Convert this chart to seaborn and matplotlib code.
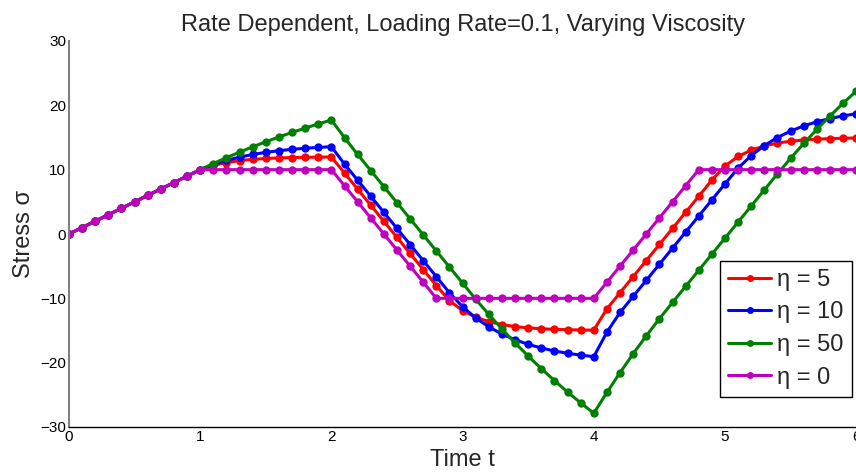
import numpy as np
import pandas as pd
import matplotlib
matplotlib.use("Agg")
import matplotlib.pyplot as plt
import seaborn as sns
from matplotlib.lines import Line2D

# Time samples (step 0.1 from 0 to 6)
time = np.round(np.linspace(0.0, 6.0, 61), 1)

# Stress response for each viscosity
stress_eta5 = [
    0, 1, 2, 3, 4, 5, 6, 7, 8, 9, 10,
    10.67, 11.11, 11.41, 11.60, 11.74, 11.82, 11.88, 11.92, 11.95, 11.97,
    9.47, 6.97, 4.47, 1.97, -0.53, -3.03, -5.53, -8.03, -10.36, -11.90,
    -12.94, -13.62, -14.08, -14.39, -14.59, -14.73, -14.82, -14.88, -14.92, -14.95,
    -11.63, -9.13, -6.63, -4.13, -1.63, 0.87, 3.37, 5.87, 8.37, 10.58,
    12.05, 13.04, 13.69, 14.13, 14.42, 14.61, 14.74, 14.83, 14.89, 14.92,
]
stress_eta10 = [
    0, 1, 2, 3, 4, 5, 6, 7, 8, 9, 10,
    10.80, 11.44, 11.95, 12.36, 12.69, 12.95, 13.16, 13.33, 13.46, 13.57,
    10.86, 8.36, 5.86, 3.36, 0.86, -1.64, -4.14, -6.64, -9.14, -11.32,
    -13.05, -14.44, -15.55, -16.44, -17.15, -17.72, -18.18, -18.54, -18.83, -19.07,
    -15.25, -12.20, -9.70, -7.20, -4.70, -2.20, 0.30, 2.80, 5.30, 7.80,
    10.24, 12.19, 13.75, 15.00, 16.00, 16.80, 17.44, 17.95, 18.36, 18.69,
]
stress_eta50 = [
    0, 1, 2, 3, 4, 5, 6, 7, 8, 9, 10,
    10.95, 11.86, 12.72, 13.55, 14.33, 15.08, 15.79, 16.46, 17.11, 17.72,
    14.97, 12.36, 9.86, 7.36, 4.86, 2.36, -0.14, -2.64, -5.14, -7.64,
    -10.14, -12.51, -14.77, -16.93, -18.98, -20.93, -22.79, -24.56, -26.25, -27.86,
    -24.63, -21.55, -18.62, -15.83, -13.17, -10.64, -8.14, -5.64, -3.14, -0.64,
    1.86, 4.36, 6.86, 9.36, 11.77, 14.07, 16.26, 18.34, 20.32, 22.21,
]
stress_eta0 = [
    0, 1, 2, 3, 4, 5, 6, 7, 8, 9, 10,
    10, 10, 10, 10, 10, 10, 10, 10, 10, 10,
    7.5, 5, 2.5, 0, -2.5, -5, -7.5, -10, -10, -10,
    -10, -10, -10, -10, -10, -10, -10, -10, -10, -10,
    -7.5, -5, -2.5, 0, 2.5, 5, 7.5, 10, 10, 10,
    10, 10, 10, 10, 10, 10, 10, 10, 10, 10,
]

series_labels = ["η = 5", "η = 10", "η = 50", "η = 0"]
series_colors = ["#ff0000", "#0000ff", "#008000", "#bf00bf"]
x_ticks = [0, 1, 2, 3, 4, 5, 6]
y_ticks = [-30, -20, -10, 0, 10, 20, 30]

sns.set_style("white")
plt.rcParams["font.family"] = ["Liberation Sans", "DejaVu Sans"]

df = pd.DataFrame({
    "t": np.tile(time, 4),
    "stress": np.concatenate([stress_eta5, stress_eta10, stress_eta50, stress_eta0]),
    "case": np.repeat(series_labels, len(time)),
})

fig = plt.figure(figsize=(8.56, 4.74), dpi=100)
ax = fig.add_axes([69 / 856, 1 - 427 / 474, 787.2 / 856, 386 / 474])

sns.lineplot(
    data=df, x="t", y="stress", hue="case", hue_order=series_labels,
    palette=dict(zip(series_labels, series_colors)),
    marker="o", markersize=6, markeredgewidth=0, linewidth=2.2,
    sort=False, estimator=None, legend=False, ax=ax,
)

ax.set_xlim(0, 6)
ax.set_ylim(-30, 30)
ax.set_xticks(x_ticks)
ax.set_yticks(y_ticks)
ax.set_xticklabels([str(v) for v in x_ticks])
ax.set_yticklabels([str(v).replace("-", "\u2212") for v in y_ticks])

for side in ("top", "right"):
    ax.spines[side].set_visible(False)
ax.spines["left"].set_color("#808080")
ax.spines["left"].set_linewidth(1.5)
ax.spines["bottom"].set_color("black")
ax.spines["bottom"].set_linewidth(1.0)

ax.tick_params(axis="both", direction="in", length=5.5, width=0.8,
               color="black", labelsize=11, labelcolor="black")
ax.tick_params(axis="y", pad=2)
ax.tick_params(axis="x", pad=2)

ax.set_title("Rate Dependent, Loading Rate=0.1, Varying Viscosity",
             fontsize=17, pad=7)
ax.set_xlabel("Time t", fontsize=17)
ax.set_ylabel("Stress σ", fontsize=17)
ax.xaxis.set_label_coords(0.5, -0.056)
ax.yaxis.set_label_coords(-0.043, 0.5)

handles = [Line2D([], [], color=c, lw=2.2, marker="o", ms=5, mew=0)
           for c in series_colors]
leg = ax.legend(handles, series_labels, loc="lower right",
                bbox_to_anchor=(0.9947, 0.0777), borderaxespad=0,
                fontsize=17, frameon=True, fancybox=False,
                edgecolor="black", framealpha=1, handlelength=1.85,
                handletextpad=0.25, labelspacing=0.45, borderpad=0.35)
leg.get_frame().set_linewidth(1.0)

fig.savefig("out.png", dpi=100)
